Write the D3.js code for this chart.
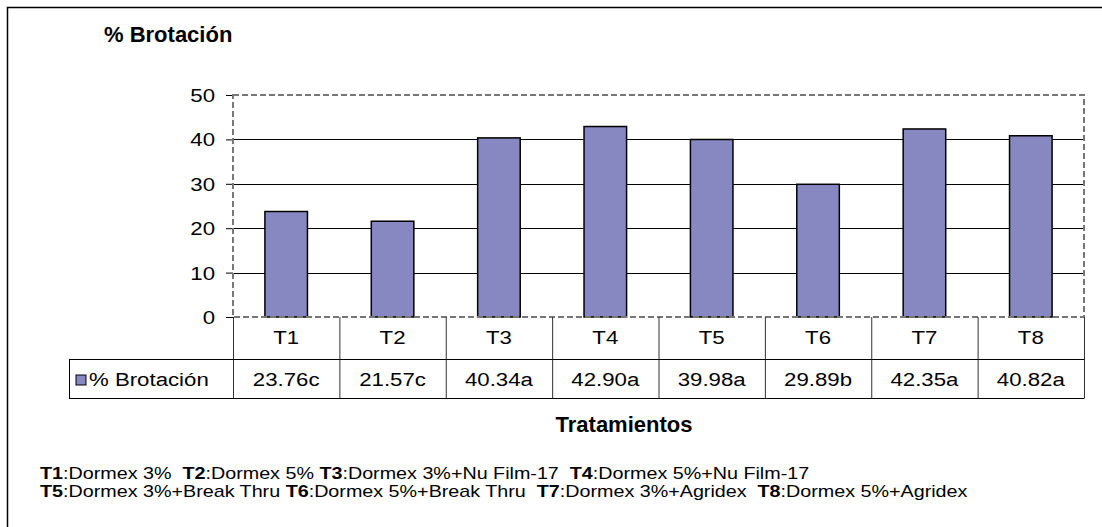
<!DOCTYPE html>
<html>
<head>
<meta charset="utf-8">
<script src="https://cdn.jsdelivr.net/npm/d3@7"></script>
<style>
  body { margin: 0; background: #fff; }
  text { font-family: "Liberation Sans", Arial, sans-serif; fill: #000; }
</style>
</head>
<body>
<div id="chart"></div>
<script>
// data
var treatments = ["T1", "T2", "T3", "T4", "T5", "T6", "T7", "T8"];
var brotacion = [23.76, 21.57, 40.34, 42.90, 39.98, 29.89, 42.35, 40.82];
var letters = ["c", "c", "a", "a", "a", "b", "a", "a"];
var yTicks = [0, 10, 20, 30, 40, 50];
var notes1 = [["T1", ":Dormex 3%  "], ["T2", ":Dormex 5% "], ["T3", ":Dormex 3%+Nu Film-17  "], ["T4", ":Dormex 5%+Nu Film-17"]];
var notes2 = [["T5", ":Dormex 3%+Break Thru "], ["T6", ":Dormex 5%+Break Thru  "], ["T7", ":Dormex 3%+Agridex  "], ["T8", ":Dormex 5%+Agridex"]];

var svgWidth = 1102, svgHeight = 527;
var plotLeft = 233, plotRight = 1084, plotTop = 95, plotBottom = 317;
var rowMid = 359, tableBottom = 398;
var barColor = "#8788c2";
var sx = 1.17; // text in the picture is a bit wide

var svg = d3.select("#chart").append("svg")
    .attr("width", svgWidth)
    .attr("height", svgHeight);

// wide text helper
function wideText(g, x, y, anchor, txt) {
  return g.append("text")
      .attr("transform", `translate(${x},${y}) scale(${sx},1)`)
      .attr("text-anchor", anchor)
      .attr("font-size", "19px")
      .text(txt);
}

// outer frame (only top and left visible)
svg.append("path")
    .attr("d", "M7.5,527 V7.5 H1102")
    .attr("fill", "none")
    .attr("stroke", "#000")
    .attr("stroke-width", 1.5);

var xScale = d3.scaleBand()
    .domain(treatments)
    .range([plotLeft, plotRight])
    .paddingInner(0.6)
    .paddingOuter(0.3);

var xBand = d3.scaleBand().domain(treatments).range([plotLeft, plotRight]);

var yScale = d3.scaleLinear()
    .domain([0, 50])
    .range([plotBottom, plotTop]);

// gridlines
svg.append("g").selectAll("line")
    .data(yTicks.filter(d => d > 0 && d < 50))
    .enter().append("line")
    .attr("x1", plotLeft).attr("x2", plotRight)
    .attr("y1", d => Math.round(yScale(d)) + 0.5)
    .attr("y2", d => Math.round(yScale(d)) + 0.5)
    .attr("stroke", "#000");

// y axis ticks (labels drawn separately so they can be widened)
var yAxis = d3.axisLeft(yScale).tickValues(yTicks).tickSize(7).tickFormat("");
var yg = svg.append("g")
    .attr("transform", `translate(${plotLeft}, 0)`)
    .call(yAxis);
yg.select(".domain").remove();
yg.selectAll("line").attr("stroke", "#000");
yTicks.forEach(function(t) {
  wideText(svg, 215, yScale(t) + 7, "end", t);
});

// bars
svg.append("g").selectAll("rect")
    .data(brotacion)
    .enter().append("rect")
    .attr("x", (d, i) => xScale(treatments[i]))
    .attr("y", d => yScale(d))
    .attr("width", xScale.bandwidth())
    .attr("height", d => yScale(0) - yScale(d))
    .attr("fill", barColor)
    .attr("stroke", "#000")
    .attr("stroke-width", 1.5);

// dashed plot-area border
svg.append("rect")
    .attr("x", plotLeft).attr("y", plotTop)
    .attr("width", plotRight - plotLeft).attr("height", plotBottom - plotTop)
    .attr("fill", "none")
    .attr("stroke", "#777")
    .attr("stroke-width", 2)
    .attr("stroke-dasharray", "6,3");

// data table
var table = svg.append("g");
table.selectAll("line.v")
    .data(treatments)
    .enter().append("line")
    .attr("x1", d => xBand(d) + 0.5).attr("x2", d => xBand(d) + 0.5)
    .attr("y1", plotBottom).attr("y2", tableBottom)
    .attr("stroke", "#333");
table.append("line")
    .attr("x1", plotRight + 0.5).attr("x2", plotRight + 0.5)
    .attr("y1", plotBottom).attr("y2", tableBottom)
    .attr("stroke", "#333");
table.append("line")
    .attr("x1", 69).attr("x2", plotRight + 0.5)
    .attr("y1", rowMid + 0.5).attr("y2", rowMid + 0.5)
    .attr("stroke", "#000");
table.append("line")
    .attr("x1", 69).attr("x2", plotRight + 0.5)
    .attr("y1", tableBottom + 0.5).attr("y2", tableBottom + 0.5)
    .attr("stroke", "#000");
table.append("line")
    .attr("x1", 69.5).attr("x2", 69.5)
    .attr("y1", rowMid).attr("y2", tableBottom)
    .attr("stroke", "#000");

treatments.forEach(function(t, i) {
  var cx = xBand(t) + xBand.bandwidth() / 2;
  wideText(table, cx, 344, "middle", t);
  wideText(table, cx, 386, "middle", brotacion[i].toFixed(2) + letters[i]);
});

// legend key in table
table.append("rect")
    .attr("x", 76).attr("y", 375)
    .attr("width", 10).attr("height", 10)
    .attr("fill", barColor)
    .attr("stroke", "#000");
wideText(table, 89, 386, "start", "% Brotación");

// titles
svg.append("text")
    .attr("x", 104).attr("y", 42)
    .attr("font-size", "22px")
    .attr("font-weight", "bold")
    .text("% Brotación");

svg.append("text")
    .attr("x", 624).attr("y", 432)
    .attr("text-anchor", "middle")
    .attr("font-size", "22px")
    .attr("font-weight", "bold")
    .text("Tratamientos");

// footnotes
function noteLine(parts, y) {
  var t = svg.append("text")
      .attr("transform", `translate(40,${y}) scale(1.16,1)`)
      .attr("font-size", "17px")
      .attr("xml:space", "preserve")
      .style("white-space", "pre");
  parts.forEach(function(p) {
    t.append("tspan").attr("font-weight", "bold").text(p[0]);
    t.append("tspan").text(p[1]);
  });
}
noteLine(notes1, 479);
noteLine(notes2, 497);
</script>
</body>
</html>
